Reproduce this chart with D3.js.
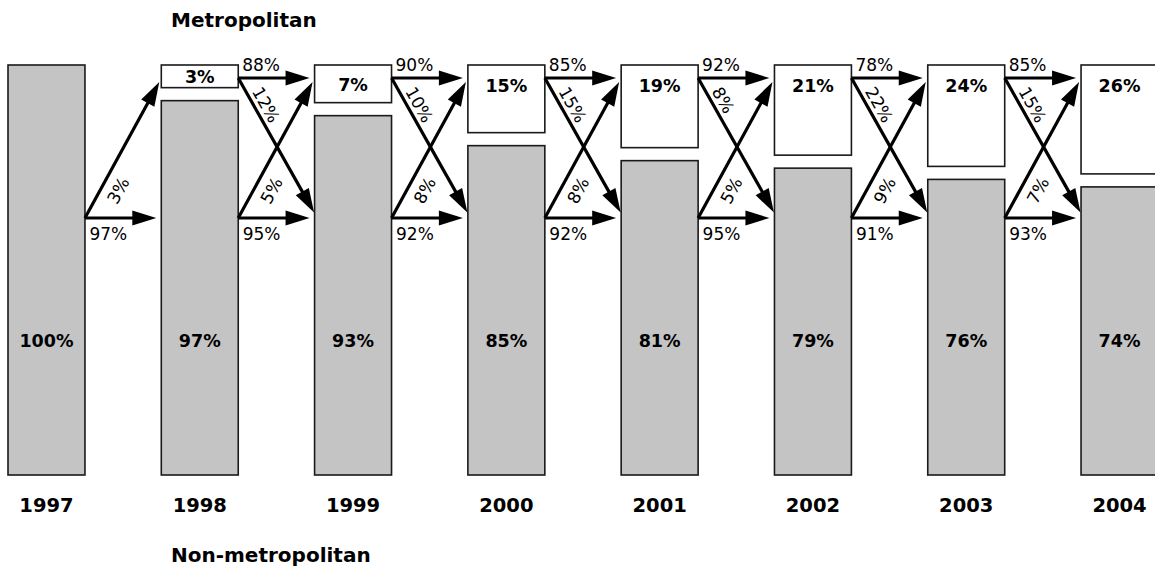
<!DOCTYPE html>
<html>
<head>
<meta charset="utf-8">
<script src="https://cdn.jsdelivr.net/npm/d3@7"></script>
<style>
  html, body { margin: 0; padding: 0; background: #fff; }
  svg { display: block; }
  text { font-family: "DejaVu Sans", sans-serif; fill: #000; }
</style>
</head>
<body>
<svg id="chart" width="1155" height="567"></svg>
<script>
// ---- data ----
const years = ["1997", "1998", "1999", "2000", "2001", "2002", "2003", "2004"];
const metroShare = [0, 3, 7, 15, 19, 21, 24, 26];
const nonMetroShare = [100, 97, 93, 85, 81, 79, 76, 74];
// transitions from year i to year i+1
const metroStay = [null, 88, 90, 85, 92, 78, 85];
const metroToNon = [null, 12, 10, 15, 8, 22, 15];
const nonToMetro = [3, 5, 8, 8, 5, 9, 7];
const nonStay = [97, 95, 92, 92, 95, 91, 93];
const topTitle = "Metropolitan";
const bottomTitle = "Non-metropolitan";

// ---- layout ----
const svg = d3.select("#chart");
const barTop = 65, barBottom = 475, boxGap = 13;
const yTopArrow = 78, yBotArrow = 218;

const x = d3.scaleBand().domain(years).range([8, 1158]).paddingInner(0.498).paddingOuter(0);
const yMetro = d3.scaleLinear().domain([0, 100]).range([barTop + 11.4, barTop + 11.4 + 375]);
const pct = d => d + "%";

const whiteBottom = v => v > 0 ? yMetro(v) : barTop;
const grayTop = v => v > 0 ? yMetro(v) + boxGap : barTop;

const g = svg.append("g");

// bars
years.forEach((yr, i) => {
  const x0 = x(yr), bw = x.bandwidth();
  if (metroShare[i] > 0) {
    g.append("rect").attr("x", x0).attr("y", barTop)
      .attr("width", bw).attr("height", whiteBottom(metroShare[i]) - barTop)
      .attr("fill", "#fff").attr("stroke", "#1a1a1a").attr("stroke-width", 1.6);
    const mid = (barTop + whiteBottom(metroShare[i])) / 2;
    g.append("text").attr("x", x0 + bw / 2)
      .attr("y", Math.min(barTop + 26.5, mid + 7))
      .attr("text-anchor", "middle").attr("font-weight", "bold").attr("font-size", 17.5)
      .text(pct(metroShare[i]));
  }
  g.append("rect").attr("x", x0).attr("y", grayTop(metroShare[i]))
    .attr("width", bw).attr("height", barBottom - grayTop(metroShare[i]))
    .attr("fill", "#c4c4c4").attr("stroke", "#1a1a1a").attr("stroke-width", 1.6);
  g.append("text").attr("x", x0 + bw / 2).attr("y", 346.5)
    .attr("text-anchor", "middle").attr("font-weight", "bold").attr("font-size", 17.5)
    .text(pct(nonMetroShare[i]));
  g.append("text").attr("x", x0 + bw / 2).attr("y", 512)
    .attr("text-anchor", "middle").attr("font-weight", "bold").attr("font-size", 19.5)
    .text(yr);
});

// arrows
const headL = 24, headW = 7.5;
function arrow(x1, y1, x2, y2) {
  const dx = x2 - x1, dy = y2 - y1, len = Math.hypot(dx, dy);
  const ux = dx / len, uy = dy / len, nx = -uy, ny = ux;
  const bx = x2 - ux * headL, by = y2 - uy * headL;
  g.append("line").attr("x1", x1).attr("y1", y1)
    .attr("x2", x2 - ux * headL * 0.7).attr("y2", y2 - uy * headL * 0.7)
    .attr("stroke", "#000").attr("stroke-width", 3.2);
  g.append("path")
    .attr("d", d3.line()([[x2, y2], [bx + nx * headW, by + ny * headW], [bx - nx * headW, by - ny * headW]]) + "Z")
    .attr("fill", "#000");
  return { ux, uy, ang: Math.atan2(dy, dx) * 180 / Math.PI };
}

function diagLabel(x1, y1, a, along, off, txt) {
  const th = a.ang * Math.PI / 180;
  const upx = Math.sin(th), upy = -Math.cos(th);
  const px = x1 + a.ux * along + upx * off;
  const py = y1 + a.uy * along + upy * off;
  g.append("text")
    .attr("transform", `translate(${px},${py}) rotate(${a.ang})`)
    .attr("font-size", 17).attr("text-anchor", "start")
    .text(txt);
}

for (let i = 0; i < years.length - 1; i++) {
  const r = x(years[i]) + x.bandwidth();
  const nl = x(years[i + 1]);
  arrow(r, yBotArrow, nl - 5, yBotArrow);
  g.append("text").attr("x", r + 4.5).attr("y", 240).attr("font-size", 17).text(pct(nonStay[i]));
  const a = arrow(r, yBotArrow, nl - 2, 82);
  diagLabel(r, yBotArrow, a, 26.6, -22, pct(nonToMetro[i]));
  if (metroStay[i] != null) {
    arrow(r, yTopArrow, nl - 5, yTopArrow);
    g.append("text").attr("x", r + 4).attr("y", 70.5).attr("font-size", 17).text(pct(metroStay[i]));
    const b = arrow(r, yTopArrow, nl - 0.5, 212.5);
    diagLabel(r, yTopArrow, b, 18, 5, pct(metroToNon[i]));
  }
}

// titles
svg.append("text").attr("x", 171).attr("y", 26.7).attr("font-weight", "bold").attr("font-size", 20).text(topTitle);
svg.append("text").attr("x", 171).attr("y", 562).attr("font-weight", "bold").attr("font-size", 20).text(bottomTitle);
</script>
</body>
</html>
